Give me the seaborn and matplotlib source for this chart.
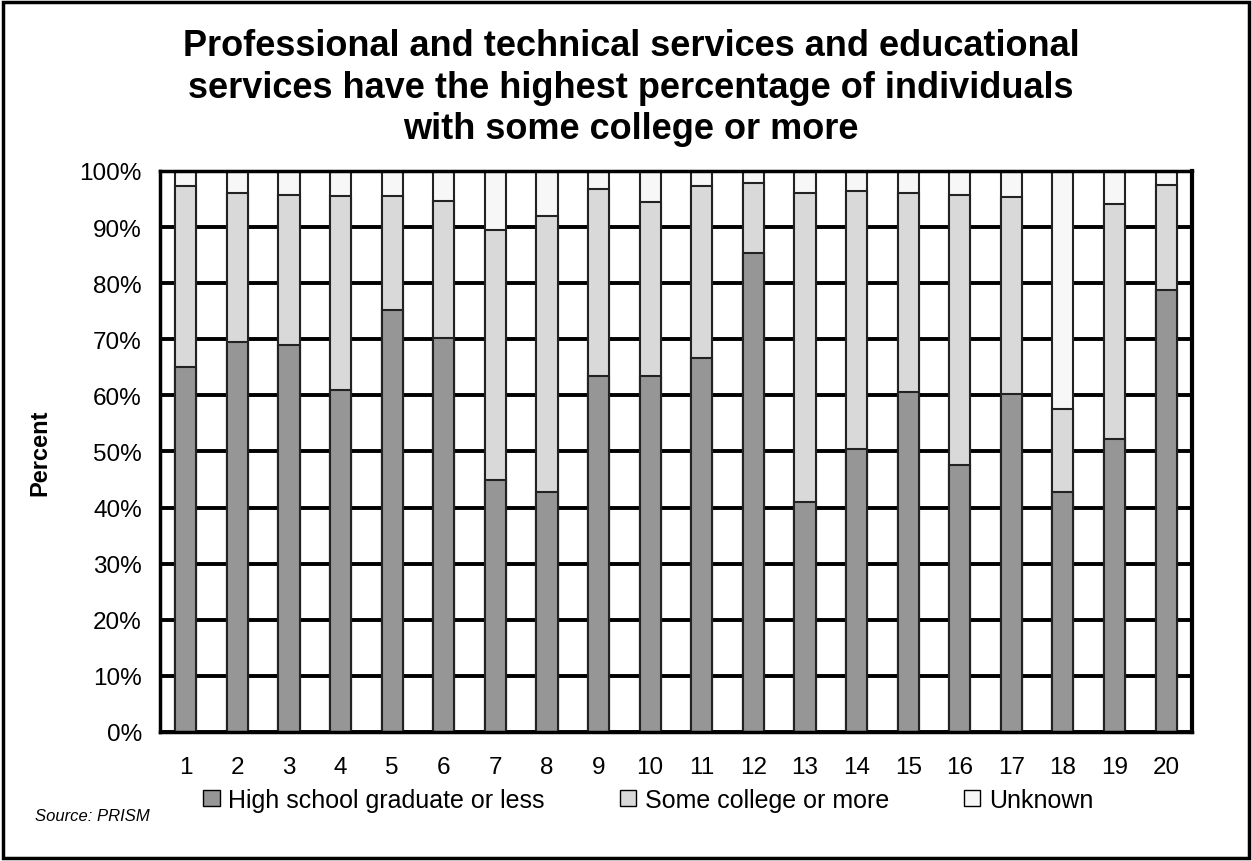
import numpy as np
import pandas as pd
import seaborn as sns
import matplotlib
matplotlib.use("Agg")
from matplotlib import pyplot as plt
from matplotlib.patches import Patch, Rectangle


# Industry numbers (1..20) and share of each education group, in percent
industry = [str(i) for i in range(1, 21)]
hs_or_less = [65.0, 69.5, 69.0, 61.0, 75.3, 70.3, 45.0, 42.7, 63.4, 63.5,
              66.7, 85.3, 41.0, 50.5, 60.6, 47.5, 60.3, 42.8, 52.2, 78.7]
some_college = [32.3, 26.5, 26.7, 34.5, 20.2, 24.4, 44.4, 49.3, 33.3, 31.0,
                30.7, 12.5, 55.0, 45.9, 35.4, 48.2, 35.0, 14.7, 42.0, 18.8]
unknown = [2.7, 4.0, 4.3, 4.5, 4.5, 5.3, 10.6, 8.0, 3.3, 5.5,
           2.6, 2.2, 4.0, 3.6, 4.0, 4.3, 4.7, 42.5, 5.8, 2.5]

df = pd.DataFrame({"Industry": industry,
                   "High school graduate or less": hs_or_less,
                   "Some college or more": some_college,
                   "Unknown": unknown})

# cumulative heights for the stacked look (draw tallest first)
df["top_unknown"] = df["High school graduate or less"] + df["Some college or more"] + df["Unknown"]
df["top_college"] = df["High school graduate or less"] + df["Some college or more"]

c_hs = "#969696"
c_col = "#d9d9d9"
c_unk = "#f7f7f7"

sns.set_style("white")
plt.rcParams['font.family'] = ['Liberation Sans', 'DejaVu Sans']
plt.rcParams['text.color'] = 'black'
plt.rcParams['axes.labelcolor'] = 'black'
plt.rcParams['xtick.color'] = 'black'
plt.rcParams['ytick.color'] = 'black'

fig = plt.figure(figsize=(12.52, 8.62), dpi=100)
ax = fig.add_axes([0.1278, 0.1497, 0.8242, 0.6508])

sns.barplot(data=df, x="Industry", y="top_unknown", color=c_unk, width=0.41,
            edgecolor="#222222", linewidth=1.5, saturation=1, ax=ax)
sns.barplot(data=df, x="Industry", y="top_college", color=c_col, width=0.41,
            edgecolor="#222222", linewidth=1.5, saturation=1, ax=ax)
sns.barplot(data=df, x="Industry", y="High school graduate or less", color=c_hs, width=0.41,
            edgecolor="#222222", linewidth=1.5, saturation=1, ax=ax)

# Axis styling
ax.set_ylim(0, 100)
ax.set_xlim(-0.5, 19.5)
ax.set_yticks(np.arange(0, 101, 10))
ax.set_yticklabels([f"{v}%" for v in range(0, 101, 10)], fontsize=17.5)
ax.yaxis.grid(True, color="black", linewidth=2.8)
ax.set_axisbelow(True)

# tick marks between categories, labels centered under bars
ax.set_xticks(np.arange(-0.5, 20, 1))
ax.set_xticklabels([])
ax.set_xticks(np.arange(0, 20), minor=True)
ax.set_xticklabels(industry, minor=True, fontsize=17.5)
ax.tick_params(axis="x", which="major", direction="out", length=7, width=2.5, color="black")
ax.tick_params(axis="x", which="minor", length=0, pad=17)
ax.tick_params(axis="y", direction="out", length=7, width=1.2, color="black", pad=6)

for s in ax.spines.values():
    s.set_color("black")
    s.set_linewidth(2.5)
ax.spines["right"].set_linewidth(3)

ax.set_xlabel("")
ax.set_ylabel("Percent", fontsize=17, fontweight="bold", labelpad=20)

fig.suptitle("Professional and technical services and educational\n"
             "services have the highest percentage of individuals\n"
             "with some college or more",
             fontsize=26, fontweight="bold", x=0.504, y=0.966, linespacing=1.24)

handles = [Patch(facecolor=c_hs, edgecolor="black", label="High school graduate or less"),
           Patch(facecolor=c_col, edgecolor="black", label="Some college or more"),
           Patch(facecolor=c_unk, edgecolor="black", label="Unknown")]
fig.legend(handles=handles, loc="center", bbox_to_anchor=(0.518, 0.071), ncol=3,
           frameon=False, fontsize=18, handlelength=0.65, handleheight=0.65,
           handletextpad=0.35, columnspacing=3.0)

fig.text(0.028, 0.048, "Source: PRISM", fontsize=12, fontstyle="italic")

# border around the whole figure
fig.patches.append(Rectangle((0.002, 0.003), 0.996, 0.994, transform=fig.transFigure,
                             fill=False, edgecolor="black", linewidth=2.5))

plt.savefig("out.png", dpi=100)
